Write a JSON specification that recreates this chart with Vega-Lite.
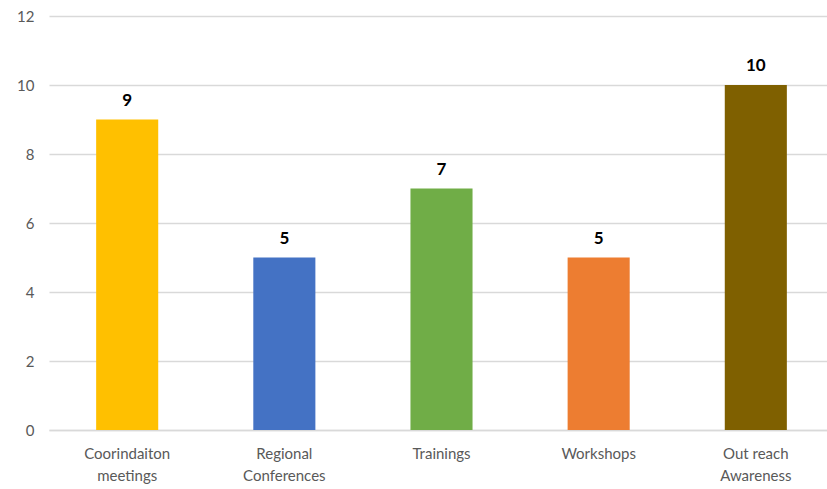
{
  "$schema": "https://vega.github.io/schema/vega-lite/v6.json",
  "autosize": "none",
  "padding": {"left": 49, "top": 16, "right": 0, "bottom": 59},
  "width": 785,
  "height": 414,
  "background": "white",
  "config": {"view": {"stroke": null}, "font": "Lato"},
  "data": {
    "values": [
      {"category": "Coorindaiton meetings", "count": 9, "color": "#FFC000"},
      {"category": "Regional Conferences", "count": 5, "color": "#4472C4"},
      {"category": "Trainings", "count": 7, "color": "#70AD47"},
      {"category": "Workshops", "count": 5, "color": "#ED7D31"},
      {"category": "Out reach Awareness", "count": 10, "color": "#7F6000"}
    ]
  },
  "encoding": {
    "x": {
      "field": "category",
      "type": "nominal",
      "sort": null,
      "scale": {"paddingInner": 0.605, "paddingOuter": 0.3},
      "axis": {
        "title": null,
        "labelAngle": 0,
        "ticks": false,
        "domainColor": "#d9d9d9",
        "domainWidth": 1.5,
        "labelColor": "#595959",
        "labelFontSize": 15,
        "labelPadding": 16,
        "labelLineHeight": 22,
        "labelExpr": "datum.value == 'Out reach Awareness' ? ['Out reach', 'Awareness'] : split(datum.value, ' ')"
      }
    },
    "y": {
      "field": "count",
      "type": "quantitative",
      "scale": {"domain": [0, 12]},
      "axis": {
        "title": null,
        "values": [0, 2, 4, 6, 8, 10, 12],
        "domain": false,
        "ticks": false,
        "gridColor": "#d9d9d9",
        "gridWidth": 1.5,
        "labelColor": "#595959",
        "labelFontSize": 15,
        "labelPadding": 15
      }
    }
  },
  "layer": [
    {
      "mark": {"type": "bar"},
      "encoding": {
        "color": {"field": "color", "type": "nominal", "scale": null}
      }
    },
    {
      "mark": {"type": "text", "baseline": "bottom", "dy": -10, "fontWeight": "bold", "fontSize": 17, "color": "#000000"},
      "encoding": {"text": {"field": "count", "type": "quantitative"}}
    }
  ]
}
